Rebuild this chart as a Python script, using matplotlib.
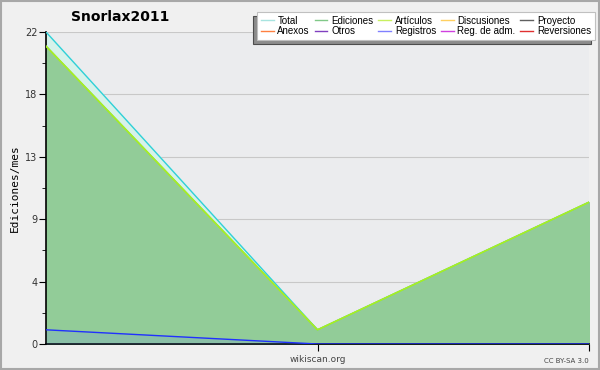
import numpy as np
import matplotlib.pyplot as plt
from matplotlib.patches import Rectangle

# data (3 months)
months = [0, 1, 2]
total = [22, 1, 10]
ediciones = [21, 1, 10]
articulos = [21, 1, 10]
registros = [1, 0, 0]

y_ticks = [0, 4.4, 8.8, 13.2, 17.6, 22]
y_tick_labels = ["0", "4", "9", "13", "18", "22"]

legend_names = ["Total", "Ediciones", "Artículos", "Discusiones", "Proyecto",
                "Anexos", "Otros", "Registros", "Reg. de adm.", "Reversiones"]
legend_colors = ["#a8e4e0", "#80c888", "#c8f060", "#ffd060", "#606060",
                 "#ff8040", "#8040c0", "#8080ff", "#d040e0", "#e03030"]

fig = plt.figure(figsize=(6, 3.7), dpi=100)
fig.patch.set_facecolor("#f0f0f0")
fig.patches.append(Rectangle((0.001, 0.002), 0.997, 0.995, transform=fig.transFigure,
                             fill=False, edgecolor="#a8a8a8", linewidth=1.5))

ax = fig.add_axes([46/600, 1-344/370, (589-46)/600, (344-32)/370])
ax.set_facecolor("#ebecee")

# stacked-looking areas
ax.fill_between(months, total, color="#d6f2ea", zorder=1)
ax.plot(months, total, color="#30d0d8", linewidth=1, zorder=4)
ax.fill_between(months, ediciones, color="#92cc98", zorder=2)
ax.plot(months, ediciones, color="#80c888", linewidth=1, zorder=4)
ax.plot(months, articulos, color="#a8f020", linewidth=1.2, zorder=5)
ax.fill_between(months, registros, color="#6080ff", alpha=0.15, linewidth=0, zorder=3)
ax.plot(months, registros, color="#2030ff", linewidth=1, zorder=5)

ax.set_xlim(0, 2)
ax.set_ylim(0, 22)
ax.set_yticks(y_ticks)
ax.set_yticklabels(y_tick_labels, fontsize=7, color="#333333")
ax.set_yticks([2.2, 6.6, 11, 15.4, 19.8], minor=True)
ax.set_xticks([1, 2])
ax.set_xticklabels([])
ax.tick_params(axis="y", which="major", length=5, pad=1)
ax.tick_params(axis="y", which="minor", length=3)
ax.tick_params(axis="x", length=5, direction="out")
ax.grid(axis="y", color="#c8c8c8", linewidth=0.8, zorder=0)
ax.set_axisbelow(True)
for s in ["top", "right"]:
    ax.spines[s].set_visible(False)
ax.spines["left"].set_linewidth(1.2)
ax.spines["bottom"].set_linewidth(1.2)

ax.set_ylabel("Ediciones/mes", fontsize=8, family="DejaVu Sans Mono", labelpad=4)

fig.text(120/600, 1-17/370, "Snorlax2011", fontsize=10, fontweight="bold",
         ha="center", va="center")
fig.text(318/600, 1-360/370, "wikiscan.org", fontsize=6.5, color="#444444",
         ha="center", va="center")
fig.text(589/600, 1-361/370, "CC BY-SA 3.0", fontsize=5, color="#444444",
         ha="right", va="center")

handles = [plt.Line2D([], [], color=c, linewidth=1) for c in legend_colors]
# order so rows read across (ncol=5, column-major fill)
order = [0, 5, 1, 6, 2, 7, 3, 8, 4, 9]
leg = fig.legend([handles[i] for i in order], [legend_names[i] for i in order],
                 ncol=5, loc="upper right", bbox_to_anchor=(595/600, 1-12/370),
                 prop={"family": "Liberation Sans", "size": 7},
                 frameon=True, fancybox=False,
                 shadow={"ox": -3, "oy": -3, "facecolor": "#8c8c8c", "alpha": 1},
                 handlelength=1.3, handletextpad=0.4, columnspacing=0.5,
                 labelspacing=0.05, borderpad=0.4, borderaxespad=0)
leg.get_frame().set_edgecolor("#c0c0c0")
leg.get_frame().set_linewidth(0.8)

fig.savefig("out.png", dpi=100, facecolor=fig.get_facecolor())
